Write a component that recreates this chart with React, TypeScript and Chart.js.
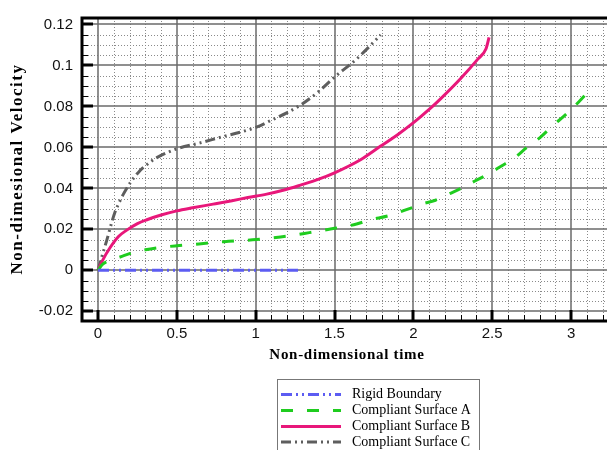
import React, { useEffect, useRef } from "react";
import { Chart, registerables } from "chart.js";

Chart.register(...registerables);

// ---- data ----
const rigidT = [0, 1.28];
const rigidV = [0, 0];

const surfAT = [0, 0.03, 0.08, 0.14, 0.21, 0.3, 0.4, 0.5, 0.64, 0.8, 0.98, 1.1, 1.22, 1.34, 1.5, 1.64, 1.72, 1.85, 1.97, 2.05, 2.14, 2.23, 2.31, 2.39, 2.475, 2.556, 2.64, 2.72, 2.805, 2.886, 2.97, 3.05, 3.13];
const surfAV = [0, 0.003, 0.005, 0.0065, 0.0084, 0.01, 0.0112, 0.012, 0.0129, 0.014, 0.0149, 0.0158, 0.0169, 0.0184, 0.0205, 0.0226, 0.0245, 0.0268, 0.03, 0.0323, 0.0342, 0.0374, 0.0403, 0.0436, 0.047, 0.0508, 0.0548, 0.06, 0.0649, 0.0707, 0.0763, 0.0823, 0.089];

const surfBT = [0, 0.03, 0.076, 0.13, 0.18, 0.25, 0.31, 0.4, 0.5, 0.6, 0.73, 0.85, 0.95, 1.07, 1.18, 1.284, 1.4, 1.5, 1.665, 1.79, 1.9, 2.005, 2.1, 2.174, 2.3, 2.41, 2.46, 2.48];
const surfBV = [0, 0.005, 0.011, 0.0165, 0.0195, 0.0228, 0.0247, 0.027, 0.029, 0.0305, 0.0323, 0.034, 0.0355, 0.0372, 0.0392, 0.0416, 0.0445, 0.0476, 0.054, 0.0605, 0.0662, 0.0723, 0.0785, 0.0838, 0.0936, 0.1032, 0.108, 0.1137];

const surfCT = [0, 0.02, 0.055, 0.087, 0.108, 0.14, 0.161, 0.203, 0.256, 0.31, 0.373, 0.5, 0.648, 0.755, 1.009, 1.1, 1.2, 1.295, 1.4, 1.5, 1.645, 1.793];
const surfCV = [0, 0.0055, 0.0145, 0.0234, 0.0285, 0.034, 0.0372, 0.0426, 0.0478, 0.0516, 0.055, 0.0593, 0.0622, 0.0645, 0.07, 0.0733, 0.077, 0.0812, 0.0873, 0.0943, 0.1035, 0.1149];

const seriesLabels = ["Rigid Boundary", "Compliant Surface A", "Compliant Surface B", "Compliant Surface C"];
const xTickValues = [0, 0.5, 1, 1.5, 2, 2.5, 3];
const yTickValues = [-0.02, 0, 0.02, 0.04, 0.06, 0.08, 0.1, 0.12];
const xTitle = "Non-dimensional time";
const yTitle = "Non-dimesional Velocity";

const colors = ["#5c5cf2", "#1fcc1f", "#e8177a", "#5e5e5e"];
const dashes = [[11, 4, 2, 4, 2, 4], [12, 14], [], [10, 4, 2, 4, 2, 4]];

const toPts = (t: number[], v: number[]) => t.map((x, i) => ({ x, y: v[i] }));

const framePlugin = {
  id: "frame",
  beforeDatasetsDraw(chart: any) {
    const { ctx, chartArea: a, scales } = chart;
    const xs = scales.x;
    const ys = scales.y;
    ctx.save();
    // minor dotted grid
    ctx.strokeStyle = "#8a8a8a";
    ctx.lineWidth = 1;
    ctx.setLineDash([1, 2]);
    for (let i = -1; i <= 32; i++) {
      const v = i / 10;
      if (i % 5 === 0) continue;
      const px = Math.round(xs.getPixelForValue(v)) + 0.5;
      if (px <= a.left || px >= a.right) continue;
      ctx.beginPath();
      ctx.moveTo(px, a.top);
      ctx.lineTo(px, a.bottom);
      ctx.stroke();
    }
    for (let i = -4; i <= 24; i++) {
      if (i % 4 === 0) continue;
      const v = i * 0.005;
      const py = Math.round(ys.getPixelForValue(v)) + 0.5;
      if (py <= a.top || py >= a.bottom) continue;
      ctx.beginPath();
      ctx.moveTo(a.left, py);
      ctx.lineTo(a.right, py);
      ctx.stroke();
    }
    ctx.setLineDash([]);
    // major grid
    ctx.strokeStyle = "#6a6a6a";
    ctx.lineWidth = 1.5;
    xTickValues.forEach((v) => {
      const px = Math.round(xs.getPixelForValue(v));
      ctx.beginPath();
      ctx.moveTo(px, a.top);
      ctx.lineTo(px, a.bottom);
      ctx.stroke();
    });
    yTickValues.forEach((v) => {
      const py = Math.round(ys.getPixelForValue(v));
      ctx.beginPath();
      ctx.moveTo(a.left, py);
      ctx.lineTo(a.right, py);
      ctx.stroke();
    });
    ctx.restore();
  },
  afterDraw(chart: any) {
    const { ctx, chartArea: a, scales } = chart;
    const xs = scales.x;
    const ys = scales.y;
    ctx.save();
    ctx.strokeStyle = "#000";
    // minor ticks
    ctx.lineWidth = 1;
    for (let i = 0; i <= 32; i++) {
      if (i % 5 === 0) continue;
      const px = Math.round(xs.getPixelForValue(i / 10)) + 0.5;
      if (px >= a.right) continue;
      ctx.beginPath();
      ctx.moveTo(px, a.bottom);
      ctx.lineTo(px, a.bottom - 6);
      ctx.stroke();
    }
    for (let i = -4; i <= 24; i++) {
      if (i % 4 === 0) continue;
      const py = Math.round(ys.getPixelForValue(i * 0.005)) + 0.5;
      if (py <= a.top || py >= a.bottom) continue;
      ctx.beginPath();
      ctx.moveTo(a.left, py);
      ctx.lineTo(a.left + 6, py);
      ctx.stroke();
    }
    // major ticks
    ctx.lineWidth = 3;
    xTickValues.forEach((v) => {
      const px = Math.round(xs.getPixelForValue(v));
      ctx.beginPath();
      ctx.moveTo(px, a.bottom);
      ctx.lineTo(px, a.bottom - 11);
      ctx.stroke();
    });
    yTickValues.forEach((v) => {
      const py = Math.round(ys.getPixelForValue(v));
      ctx.beginPath();
      ctx.moveTo(a.left, py);
      ctx.lineTo(a.left + 11, py);
      ctx.stroke();
    });
    // frame
    ctx.lineWidth = 3;
    ctx.beginPath();
    ctx.moveTo(a.right + 2, a.top);
    ctx.lineTo(a.left, a.top);
    ctx.lineTo(a.left, a.bottom);
    ctx.lineTo(a.right + 2, a.bottom);
    ctx.stroke();

    // axis titles
    ctx.fillStyle = "#000";
    ctx.font = "bold 15px 'Liberation Serif', serif";
    ctx.textAlign = "center";
    ctx.textBaseline = "middle";
    (ctx as any).letterSpacing = "0.7px";
    ctx.fillText(xTitle, 347, 355);
    ctx.save();
    ctx.translate(18, 169);
    ctx.rotate(-Math.PI / 2);
    ctx.font = "bold 17px 'Liberation Serif', serif";
    (ctx as any).letterSpacing = "1.5px";
    ctx.fillText(yTitle, 0, 0);
    ctx.restore();
    (ctx as any).letterSpacing = "0px";

    // legend
    ctx.strokeStyle = "#777";
    ctx.lineWidth = 1;
    ctx.strokeRect(277.5, 379.5, 202, 90);
    ctx.font = "14px 'Liberation Serif', serif";
    ctx.textAlign = "left";
    const rows = [394.5, 410.5, 426.5, 442];
    seriesLabels.forEach((lab, i) => {
      ctx.strokeStyle = colors[i];
      ctx.lineWidth = 3;
      ctx.setLineDash(dashes[i]);
      ctx.beginPath();
      ctx.moveTo(281, rows[i]);
      ctx.lineTo(341, rows[i]);
      ctx.stroke();
      ctx.setLineDash([]);
      ctx.fillStyle = "#000";
      ctx.fillText(lab, 352, rows[i]);
    });
    ctx.restore();
  },
};

export default function App() {
  const ref = useRef<HTMLCanvasElement | null>(null);
  useEffect(() => {
    if (!ref.current) return;
    const series = [toPts(rigidT, rigidV), toPts(surfAT, surfAV), toPts(surfBT, surfBV), toPts(surfCT, surfCV)];
    const chart = new Chart(ref.current, {
      type: "line",
      data: {
        datasets: series.map((d, i) => ({
          label: seriesLabels[i],
          data: d,
          borderColor: colors[i],
          backgroundColor: colors[i],
          borderWidth: 3,
          borderDash: dashes[i],
          pointRadius: 0,
          cubicInterpolationMode: "monotone",
          fill: false,
        })),
      },
      options: {
        responsive: false,
        animation: false,
        layout: { padding: { top: 16, right: 0, left: 0, bottom: 0 } },
        plugins: { legend: { display: false }, tooltip: { enabled: false } },
        scales: {
          x: {
            type: "linear",
            min: -0.1015,
            max: 3.228,
            grid: { display: false, drawTicks: false },
            border: { display: false },
            afterBuildTicks: (s: any) => {
              s.ticks = xTickValues.map((v) => ({ value: v }));
            },
            afterFit: (s: any) => {
              s.height = 129;
            },
            ticks: {
              padding: 4,
              color: "#111",
              font: { family: "'Liberation Sans', Arial, sans-serif", size: 15 },
              maxRotation: 0,
              autoSkip: false,
              callback: (v: any) => String(+Number(v).toFixed(2)),
            },
          },
          y: {
            type: "linear",
            min: -0.02473,
            max: 0.12315,
            grid: { display: false, drawTicks: false },
            border: { display: false },
            afterBuildTicks: (s: any) => {
              s.ticks = yTickValues.map((v) => ({ value: v }));
            },
            afterFit: (s: any) => {
              s.width = 82;
            },
            ticks: {
              padding: 9,
              color: "#111",
              font: { family: "'Liberation Sans', Arial, sans-serif", size: 15 },
              autoSkip: false,
              callback: (v: any) => String(+Number(v).toFixed(2)),
            },
          },
        },
      },
      plugins: [framePlugin],
    } as any);
    return () => chart.destroy();
  }, []);
  return (
    <div style={{ position: "absolute", left: 0, top: 0, width: 607, height: 450, background: "#fff" }}>
      <canvas ref={ref} width={607} height={450} style={{ display: "block" }} />
    </div>
  );
}
